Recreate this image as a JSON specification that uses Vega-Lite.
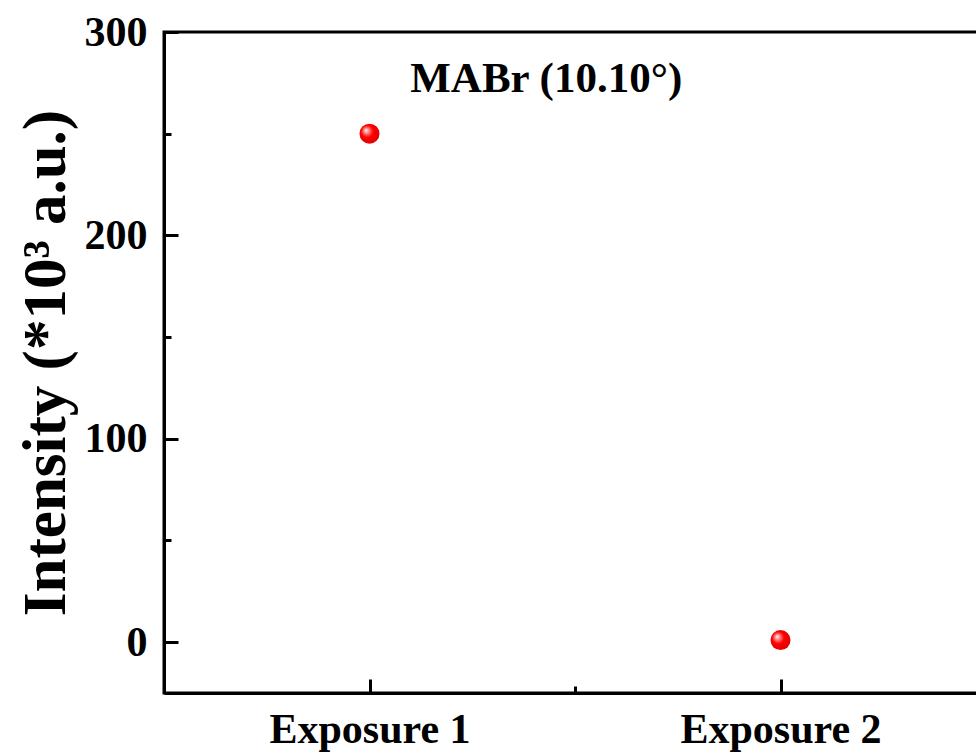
{
  "$schema": "https://vega.github.io/schema/vega-lite/v6.json",
  "autosize": "none",
  "padding": {"left": 164, "top": 32, "right": 0, "bottom": 61},
  "width": 822,
  "height": 661,
  "config": {
    "view": {"stroke": "black", "strokeWidth": 3},
    "font": "Liberation Serif",
    "axis": {
      "domainColor": "black",
      "domainWidth": 3,
      "tickColor": "black",
      "tickWidth": 3,
      "grid": false,
      "labelFont": "Liberation Serif",
      "labelFontWeight": "bold",
      "labelFontSize": 42,
      "labelColor": "black",
      "labelLimit": 0,
      "titleFont": "Liberation Serif",
      "titleFontWeight": "bold",
      "titleColor": "black"
    }
  },
  "layer": [
    {
      "data": {"values": [
        {"exposure": 1, "intensity": 250},
        {"exposure": 2, "intensity": 1}
      ]},
      "mark": {
        "type": "circle",
        "size": 400,
        "opacity": 1,
        "fill": {
          "gradient": "radial",
          "x1": 0.32, "y1": 0.32, "r1": 0,
          "x2": 0.45, "y2": 0.45, "r2": 0.6,
          "stops": [
            {"offset": 0, "color": "#ffffff"},
            {"offset": 0.2, "color": "#ff9090"},
            {"offset": 0.5, "color": "#ff0000"},
            {"offset": 1, "color": "#e00000"}
          ]
        }
      },
      "encoding": {
        "x": {
          "field": "exposure", "type": "quantitative",
          "scale": {"domain": [0.5, 2.5], "nice": false, "zero": false},
          "axis": {
            "orient": "bottom",
            "values": [1, 1.5, 2],
            "labelExpr": "datum.value == 1 ? 'Exposure 1' : datum.value == 2 ? 'Exposure 2' : ''",
            "tickSize": {"condition": {"test": "datum.value % 1 === 0", "value": -14}, "value": -7},
            "labelPadding": 30,
            "labelLimit": 0,
            "title": null
          }
        },
        "y": {
          "field": "intensity", "type": "quantitative",
          "scale": {"domain": [-25, 300], "nice": false, "zero": false},
          "axis": {
            "orient": "left",
            "values": [0, 50, 100, 150, 200, 250, 300],
            "labelExpr": "datum.value % 100 === 0 ? datum.label : ''",
            "tickSize": {"condition": {"test": "datum.value % 100 === 0", "value": -14}, "value": -7},
            "labelPadding": 31,
            "title": "Intensity (*10³ a.u.)",
            "titleFontSize": 61,
            "titleAngle": -90,
            "titleBaseline": "alphabetic",
            "titleX": -100
          }
        }
      }
    },
    {
      "data": {"values": [
        {"exposure": 1.43, "intensity": 277, "label": "MABr (10.10°)"}
      ]},
      "mark": {
        "type": "text",
        "font": "Liberation Serif",
        "fontWeight": "bold",
        "fontSize": 43,
        "color": "black",
        "align": "center",
        "baseline": "middle"
      },
      "encoding": {
        "text": {"field": "label"},
        "x": {"field": "exposure", "type": "quantitative"},
        "y": {"field": "intensity", "type": "quantitative"}
      }
    }
  ]
}
